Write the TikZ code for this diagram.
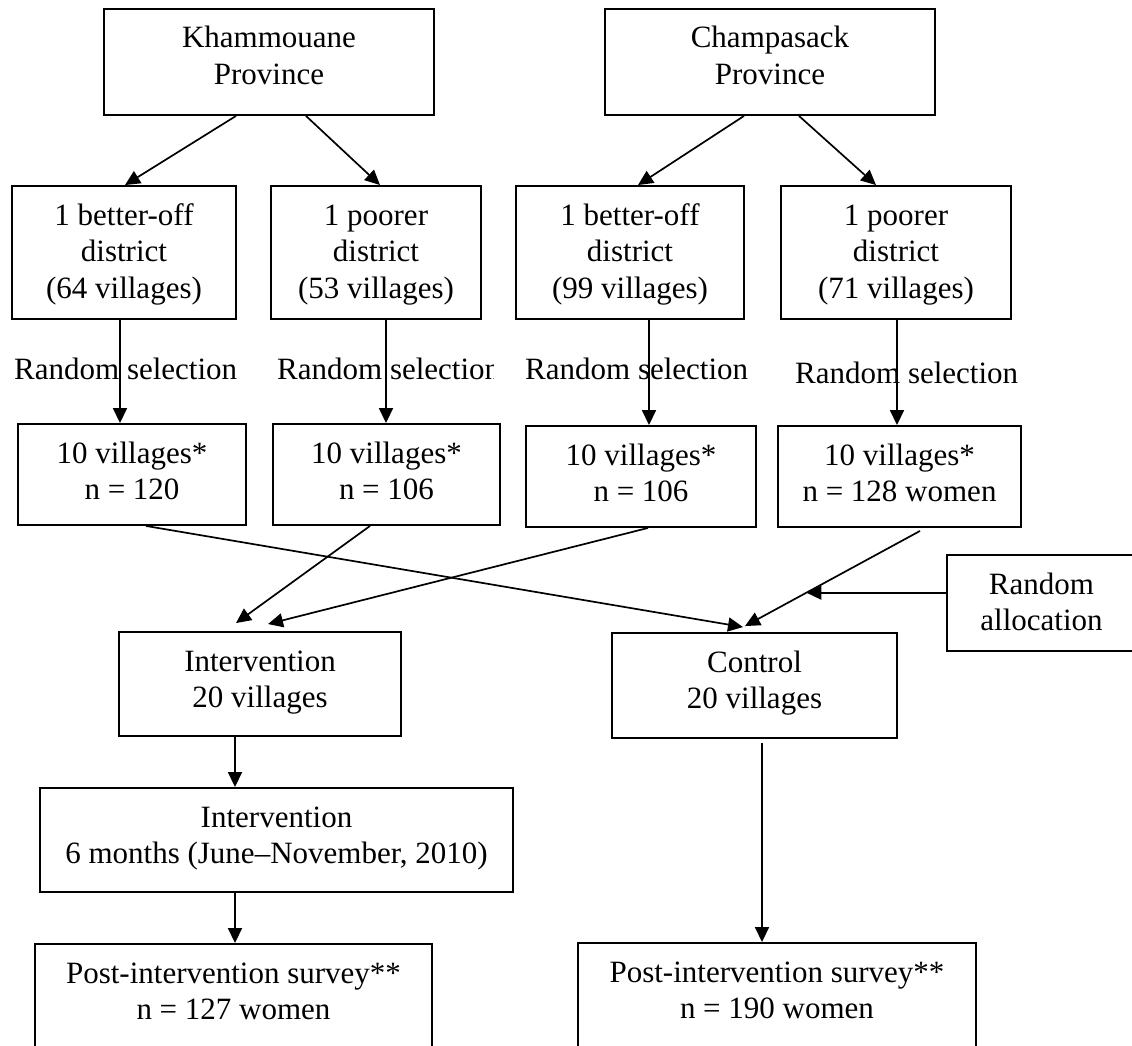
\documentclass[tikz,border=0pt]{standalone}
\usepackage{fontspec}
\setmainfont{Liberation Serif}
\usetikzlibrary{arrows.meta}
% box contents: fixed size, lines centred and hung from the top edge
\newcommand\boxlines[3]{\parbox[c][#2][t]{#1}{\centering\rule{0pt}{39pt}#3\par}}
\begin{document}
\begin{tikzpicture}[x=1pt,y=-1pt,
  every node/.style={font=\fontsize{31}{36.5}\selectfont},
  box/.style={draw, line width=1.9pt, inner sep=0pt},
  arr/.style={-{Triangle[length=15pt,width=14pt]}, line width=1.7pt},
  lab/.style={inner sep=0pt, anchor=base west}]
\useasboundingbox (0,0) rectangle (1132,1046);

% provinces
\node[box] (kham)  at (269,62) {\boxlines{330pt}{106pt}{Khammouane\\Province}};
\node[box] (champ) at (770,62) {\boxlines{330pt}{106pt}{Champasack\\Province}};

% districts
\node[box] (d1) at (124,252.5) {\boxlines{224pt}{133pt}{1 better-off\\district\\(64 villages)}};
\node[box] (d2) at (376,252.5) {\boxlines{210pt}{133pt}{1 poorer\\district\\(53 villages)}};
\node[box] (d3) at (630,252.5) {\boxlines{228pt}{133pt}{1 better-off\\district\\(99 villages)}};
\node[box] (d4) at (896,252.5) {\boxlines{230pt}{133pt}{1 poorer\\district\\(71 villages)}};

% selected villages
\node[box] (v1) at (132,474.5)   {\boxlines{228pt}{101pt}{10 villages*\\n = 120}};
\node[box] (v2) at (386.5,474.5) {\boxlines{227pt}{101pt}{10 villages*\\n = 106}};
\node[box] (v3) at (641,476.5)   {\boxlines{230pt}{101pt}{10 villages*\\n = 106}};
\node[box] (v4) at (899.5,476.5) {\boxlines{243pt}{101pt}{10 villages*\\n = 128 women}};

% allocation
\node[box] (alloc)   at (1041.5,603) {\boxlines{189pt}{96pt}{Random\\allocation}};
\node[box] (interv)  at (260,684)    {\boxlines{282pt}{104pt}{Intervention\\20 villages}};
\node[box] (control) at (754.5,685.5){\boxlines{285pt}{105pt}{Control\\20 villages}};
\node[box] (six)     at (276.5,840)  {\boxlines{473pt}{104pt}{Intervention\\6 months (June--November, 2010)}};
\node[box] (post1)   at (233.5,996)  {\boxlines{397pt}{104pt}{Post-intervention survey**\\n = 127 women}};
\node[box] (post2)   at (777,995)    {\boxlines{398pt}{104pt}{Post-intervention survey**\\n = 190 women}};

% selection labels
\node[lab] (sel1) at (14,379) {Random selection};
\begin{scope}
  \clip (270,330) rectangle (493,400);
  \node[lab] (sel2) at (277,379) {Random selection};
\end{scope}
\node[lab] (sel3) at (525,379) {Random selection};
\node[lab] (sel4) at (795,383) {Random selection};

% province -> district
\draw[arr] ([xshift=-33pt]kham.south) -- ([xshift=1pt]d1.north);
\draw[arr] ([xshift=37pt]kham.south) -- ([xshift=4pt]d2.north);
\draw[arr] ([xshift=-26pt]champ.south) -- ([xshift=8pt]d3.north);
\draw[arr] ([xshift=29pt]champ.south) -- ([xshift=-20pt]d4.north);

% district -> villages
\draw[arr] ([xshift=-4pt]d1.south) -- ([xshift=-12pt]v1.north);
\draw[arr] ([xshift=10pt]d2.south) -- ([xshift=-0.5pt]v2.north);
\draw[arr] ([xshift=19pt]d3.south) -- ([xshift=8pt]v3.north);
\draw[arr] ([xshift=1pt]d4.south) -- ([xshift=-2.5pt]v4.north);

% villages -> arms
\draw[arr] ([xshift=14pt]v1.south) -- ([xshift=-11.5pt,yshift=5pt]control.north);
\draw[arr] ([xshift=-16.5pt]v2.south) -- ([xshift=-24pt,yshift=8pt]interv.north);
\draw[arr] ([xshift=7pt]v3.south) -- ([xshift=8pt,yshift=7pt]interv.north);
\draw[arr] ([xshift=20.5pt,yshift=-3pt]v4.south) -- coordinate[pos=0.649] (hit)
  ([xshift=-9.5pt,yshift=6pt]control.north);
\draw[arr] (alloc.west |- hit) -- (hit);

% follow-up
\draw[arr] ([xshift=-25pt]interv.south) -- ([xshift=-41.5pt]six.north);
\draw[arr] ([xshift=-41.5pt]six.south) -- ([xshift=1.5pt]post1.north);
\draw[arr] ([xshift=7.5pt,yshift=-4pt]control.south) -- ([xshift=-15pt]post2.north);
\end{tikzpicture}
\end{document}
